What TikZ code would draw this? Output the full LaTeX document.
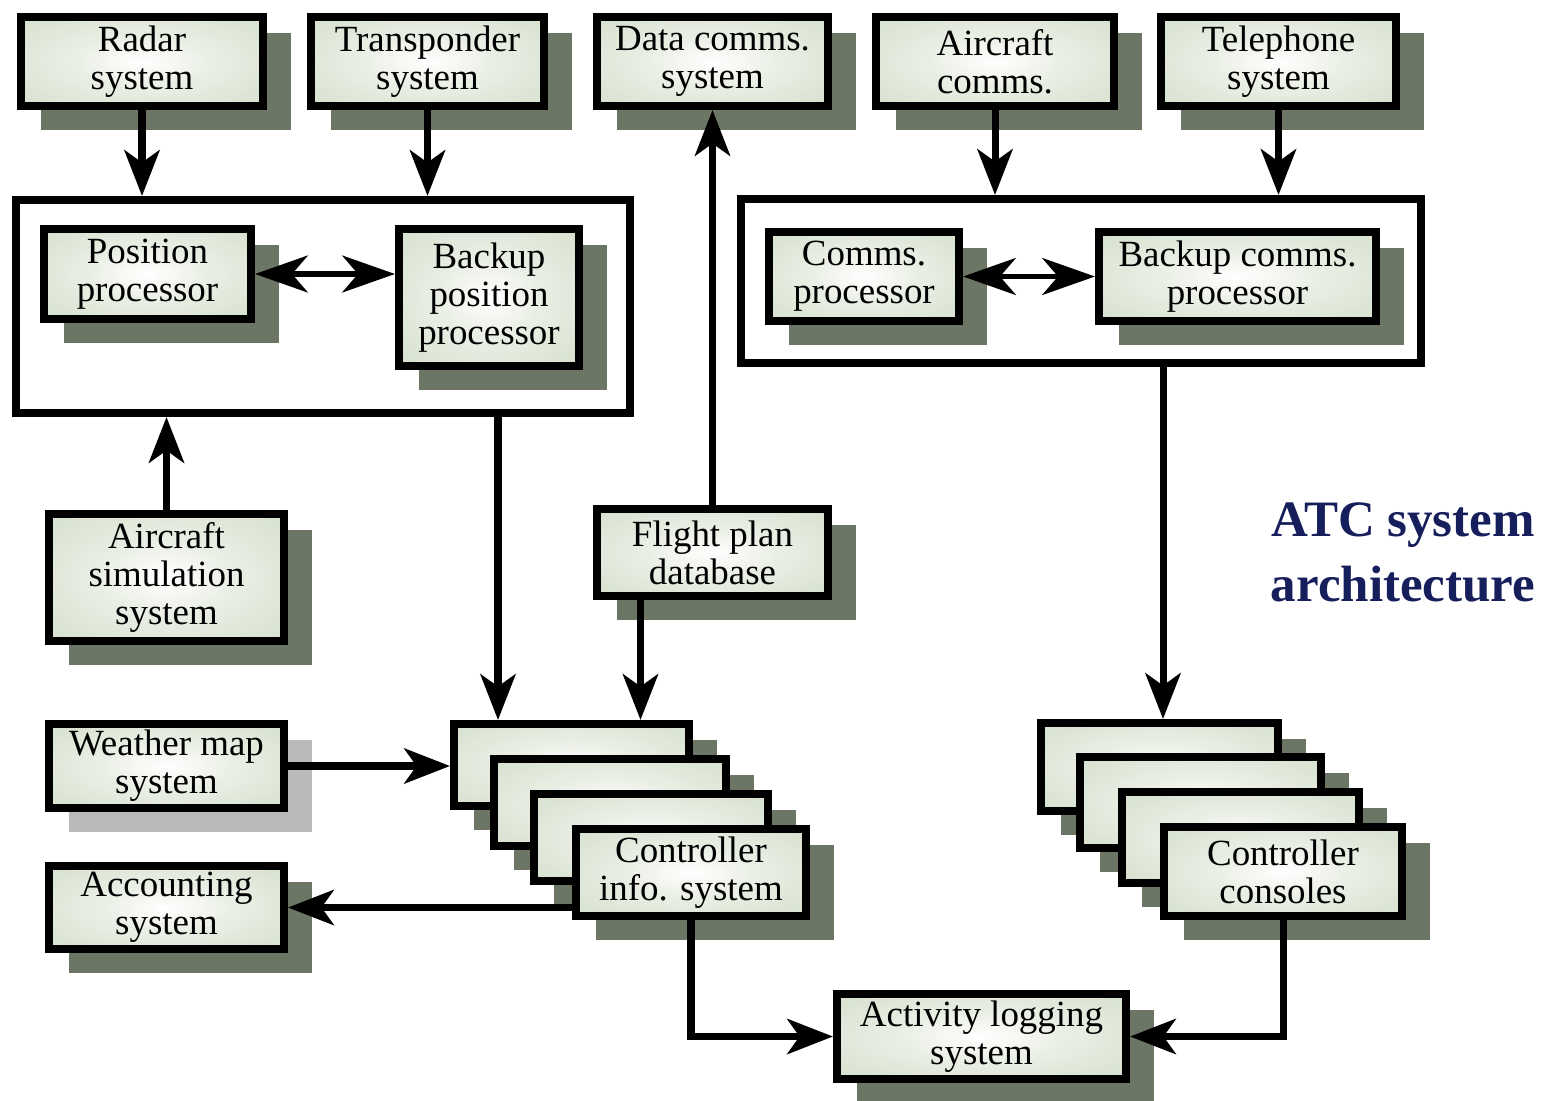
\documentclass[tikz,border=0pt]{standalone}
\usepackage{fontspec}
\setmainfont{Liberation Serif}
\usetikzlibrary{arrows.meta,calc}

\definecolor{boxc}{RGB}{206,219,196}
\definecolor{boxmid}{RGB}{234,239,229}
\definecolor{shadowc}{RGB}{108,118,100}
\definecolor{shadowl}{RGB}{186,186,186}
\definecolor{titlec}{RGB}{22,30,92}

% pale glow in the middle of every system box
\pgfdeclareradialshading{boxglow}{\pgfpoint{0bp}{0bp}}{%
  color(0bp)=(white); color(14bp)=(boxmid); color(44bp)=(boxc); color(80bp)=(boxc)}

\tikzset{
  sysbox/.style={draw=black, line width=2.3pt, shading=boxglow, align=center,
    inner sep=0pt, font=\fontsize{10.5}{10.8}\selectfont},
  group/.style={draw=black, line width=2.3pt, inner sep=0pt},
  flow/.style={line width=2pt, -{Stealth[length=13pt,width=10pt,inset=3.5pt]}},
  duplex/.style={line width=1.5pt,
    {Stealth[length=15pt,width=10.5pt,inset=4.5pt]}-{Stealth[length=15pt,width=10.5pt,inset=4.5pt]}},
}

% system box with its drop shadow: name, x1, y1, x2, y2 (outer edges), shadow colour, text
\newcommand{\atcbox}[7]{%
  \fill[#6] (#2+24,#3+20) rectangle (#4+24,#5+20);
  \node[sysbox, minimum width={(#4-#2-8)*0.01cm}, minimum height={(#5-#3-8)*0.01cm}]
    (#1) at ({(#2+#4)/2},{(#3+#5)/2}) {#7};
}

\begin{document}
\begin{tikzpicture}[x={(0.01cm,0)}, y={(0,-0.01cm)}]
\useasboundingbox (0,0) rectangle (1549,1100);
\fill[white] (0,0) rectangle (1549,1100);

% external systems along the top
\atcbox{radar}{17}{13}{267}{110}{shadowc}{Radar\\system}
\atcbox{transp}{307}{13}{548}{110}{shadowc}{Transponder\\system}
\atcbox{datacomms}{593}{13}{832}{110}{shadowc}{Data comms.\\system}
\atcbox{accomms}{872}{13}{1118}{110}{shadowc}{Aircraft\\comms.}
\atcbox{phone}{1157}{13}{1400}{110}{shadowc}{Telephone\\system}

% processor groups
\node[group, minimum width={(634-12-8)*0.01cm}, minimum height={(417-196-8)*0.01cm}]
  (leftgrp) at ({(12+634)/2},{(196+417)/2}) {};
\node[group, minimum width={(1425-737-8)*0.01cm}, minimum height={(367-195-8)*0.01cm}]
  (rightgrp) at ({(737+1425)/2},{(195+367)/2}) {};

\atcbox{pospr}{40}{225}{255}{323}{shadowc}{Position\\processor}
\atcbox{bkpos}{395}{225}{583}{370}{shadowc}{Backup\\position\\processor}
\atcbox{commpr}{765}{228}{963}{325}{shadowc}{Comms.\\processor}
\atcbox{bkcomm}{1095}{228}{1380}{325}{shadowc}{Backup comms.\\processor}

% other systems
\atcbox{acsim}{45}{510}{288}{645}{shadowc}{Aircraft\\simulation\\system}
\atcbox{fpdb}{593}{505}{832}{600}{shadowc}{Flight plan\\database}
\atcbox{weather}{45}{720}{288}{812}{shadowl}{Weather map\\system}
\atcbox{acct}{45}{862}{288}{953}{shadowc}{Accounting\\system}

% controller info. system stack
\atcbox{cis1}{450}{720}{693}{810}{shadowc}{}
\atcbox{cis2}{490}{755}{730}{850}{shadowc}{}
\atcbox{cis3}{530}{790}{772}{885}{shadowc}{}
\atcbox{cis4}{572}{825}{810}{920}{shadowc}{Controller\\info. system}

% controller consoles stack
\atcbox{cc1}{1037}{719}{1282}{815}{shadowc}{}
\atcbox{cc2}{1076}{753}{1325}{852}{shadowc}{}
\atcbox{cc3}{1118}{788}{1363}{887}{shadowc}{}
\atcbox{cc4}{1160}{823}{1406}{920}{shadowc}{Controller\\consoles}

\atcbox{actlog}{833}{990}{1130}{1083}{shadowc}{Activity logging\\system}

% title
\node[font=\fontsize{14.5}{18.5}\selectfont\bfseries, text=titlec, align=center]
  (title) at (1403,552) {ATC system\\architecture};

% connectors
\draw[flow] (radar) -- (radar |- leftgrp.north);
\draw[flow] (transp) -- (transp |- leftgrp.north);
\draw[flow] (accomms) -- (accomms |- rightgrp.north);
\draw[flow] (phone) -- (phone |- rightgrp.north);
\draw[duplex] (pospr.east) -- (pospr.east -| bkpos.west);
\draw[duplex] (commpr.east) -- (commpr.east -| bkcomm.west);
\draw[flow] (fpdb) -- (datacomms);
\draw[flow] (acsim) -- (acsim |- leftgrp.south);
\coordinate (grpout) at ($(leftgrp.south)+(175,0)$);
\draw[flow] (grpout) -- (grpout |- cis1.north);
\coordinate (fpout) at ($(fpdb.south)+(-72,0)$);
\draw[flow] (fpout) -- (fpout |- cis1.north);
\draw[flow] (weather.east) -- (weather.east -| cis1.west);
\draw[flow] (cis4.west |- acct) -- (acct.east);
\coordinate (rgout) at ($(rightgrp.south)+(82,0)$);
\draw[flow] (rgout) -- (rgout |- cc1.north);
\draw[flow] (cis4.south) |- (actlog.west);
\draw[flow] (cc4.south) |- (actlog.east);
\end{tikzpicture}
\end{document}
